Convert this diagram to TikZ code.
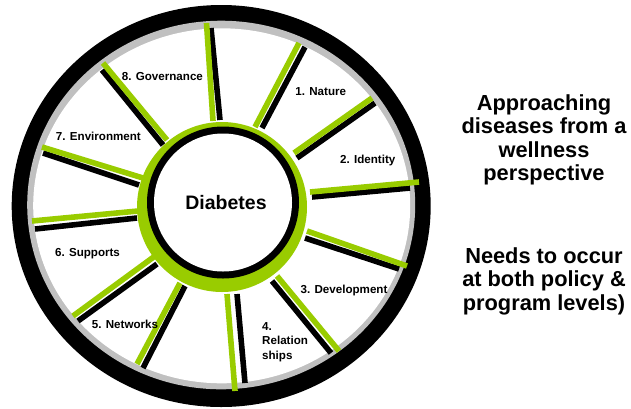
\documentclass[tikz,border=0pt]{standalone}
\usepackage{fontspec}
\setmainfont{Liberation Sans}
\definecolor{verde}{RGB}{153,204,0}
\definecolor{gris}{RGB}{192,192,192}
\tikzset{
  radio/.style={line width=5.6pt},
  etiqueta/.style={font=\bfseries\fontsize{11.6}{14.5}\selectfont, inner sep=0pt, text height=8.4pt, text depth=0pt},
  lema/.style={font=\bfseries\fontsize{21.8}{23.5}\selectfont, align=center, inner sep=0pt, anchor=north}
}
\begin{document}
\begin{tikzpicture}[x={(1pt,0pt)}, y={(0pt,-1pt)}]
\useasboundingbox (0,0) rectangle (631,408);

% Rueda exterior
\fill[black] (221.2,206) ellipse (209.5 and 201);
\fill[gris] (221.2,205) ellipse (194 and 184.3);
\fill[white] (221.7,205.8) ellipse (188.5 and 177.5);

% Radios (negro debajo, verde al lado)
\draw[radio] (211,28) -- (220,120);
\draw[radio, verde] (206.5,23) -- (213,121);
\draw[radio] (305,47) -- (262,128);
\draw[radio, verde] (299,43) -- (255,127);
\draw[radio] (375,103) -- (297,158);
\draw[radio, verde] (372,98) -- (294,153);
\draw[radio] (410,188) -- (312,197);
\draw[radio, verde] (419,182) -- (310,192);
\draw[radio] (399,269) -- (305,238);
\draw[radio, verde] (407,266) -- (307,231);
\draw[radio] (331,353) -- (272,281);
\draw[radio, verde] (339,351) -- (277,276);
\draw[radio] (245,383) -- (237,294);
\draw[radio, verde] (235,391) -- (227,294);
\draw[radio] (143,368) -- (185,286);
\draw[radio, verde] (137,364) -- (180,283);
\draw[radio] (78,321) -- (157,264);
\draw[radio, verde] (73,316) -- (155,256);
\draw[radio] (35,229) -- (137,218);
\draw[radio, verde] (32,221) -- (138,211);
\draw[radio] (43,153) -- (139,185);
\draw[radio, verde] (42,147) -- (143,178);
\draw[radio] (102,70) -- (163,145);
\draw[radio, verde] (103,63) -- (167,140);

% Centro
\fill[verde] (222,207) circle (85);
\fill[black] (223,202.5) circle (76);
\fill[white] (223,202.5) circle (69);
\node[font=\bfseries\fontsize{19.5}{22}\selectfont, inner sep=0pt] (diabetes) at (226,203) {Diabetes};

% Etiquetas
\node[etiqueta] (naturaleza) at (320.7,91.7) {1. Nature};
\node[etiqueta] (identidad) at (367.7,159) {2. Identity};
\node[etiqueta] (desarrollo) at (344,289.3) {3. Development};
\node[etiqueta, text height=, text depth=, align=left, anchor=west] (relaciones) at (262,342) {4.\\Relation\\ships};
\node[etiqueta] (redes) at (125,324.3) {5. Networks};
\node[etiqueta] (apoyos) at (87.5,252.7) {6. Supports};
\node[etiqueta] (entorno) at (98.4,136.7) {7. Environment};
\node[etiqueta] (gobernanza) at (162.4,76) {8. Governance};

% Texto a la derecha
\node[lema] (enfoque) at (544,94) {Approaching\\diseases from a\\wellness\\perspective};
\node[lema] (niveles) at (544,247) {Needs to occur\\at both policy \&\\program levels)};
\end{tikzpicture}
\end{document}
